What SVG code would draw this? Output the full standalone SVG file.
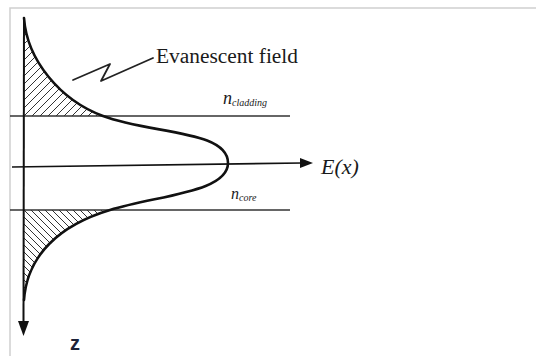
<svg xmlns="http://www.w3.org/2000/svg" width="536" height="356" viewBox="0 0 536 356">
<style>
.serif{font-family:"Liberation Serif","Times New Roman",serif;fill:#1a1a1a}
.it{font-style:italic}
.hline{stroke:#333;stroke-width:1.6;fill:none}
.hatch{stroke:#333;stroke-width:1;fill:none}
.curve{stroke:#111;stroke-width:2.6;fill:none;stroke-linecap:round}
</style>
<defs>
<clipPath id="topClip"><path d="M24,18 C27,60 60,100 103,116 L24,116 Z"/></clipPath>
<clipPath id="botClip"><path d="M24,210 L110,210 C60,225 27,255 24,300 Z"/></clipPath>
</defs>
<rect width="536" height="356" fill="#fff"/>
<g id="frame">
<path d="M10,356 V8 H536" stroke="#cfcfcf" stroke-width="1.5" fill="none"/>
</g>
<g id="hatching">
<g clip-path="url(#topClip)" class="hatch">
<path d="M0,124 L120,4 M8,124 L128,4 M16,124 L136,4 M24,124 L144,4 M32,124 L152,4 M40,124 L160,4 M48,124 L168,4 M56,124 L176,4 M64,124 L184,4 M72,124 L192,4 M80,124 L200,4 M88,124 L208,4 M96,124 L216,4 M-8,124 L112,4 M-16,124 L104,4 M-24,124 L96,4 M-32,124 L88,4 M-40,124 L80,4 M-48,124 L72,4 M-56,124 L64,4 M-64,124 L56,4 M-72,124 L48,4 M-80,124 L40,4"/>
</g>
<g clip-path="url(#botClip)" class="hatch">
<path d="M0,200 L110,310 M7,200 L117,310 M14,200 L124,310 M21,200 L131,310 M28,200 L138,310 M35,200 L145,310 M42,200 L152,310 M49,200 L159,310 M56,200 L166,310 M63,200 L173,310 M70,200 L180,310 M77,200 L187,310 M84,200 L194,310 M91,200 L201,310 M98,200 L208,310 M105,200 L215,310 M-7,200 L103,310 M-14,200 L96,310 M-21,200 L89,310 M-28,200 L82,310 M-35,200 L75,310 M-42,200 L68,310 M-49,200 L61,310 M-56,200 L54,310 M-63,200 L47,310 M-70,200 L40,310 M-77,200 L33,310 M-84,200 L26,310"/>
</g>
</g>
<g id="connectors">
<line x1="10" y1="116" x2="290" y2="116" class="hline"/>
<line x1="10" y1="210" x2="290" y2="210" class="hline"/>
<line x1="12" y1="167" x2="302" y2="163" stroke="#111" stroke-width="1.6"/>
<polygon points="300,158 313,163 300,168" fill="#111"/>
<path d="M24,17 L23.5,323" stroke="#111" stroke-width="2"/>
<polygon points="18,321 23.5,336 29,321" fill="#111"/>
<path d="M73,80 L110,64 L101,81 L153,58" stroke="#222" stroke-width="1.8" fill="none" stroke-linejoin="round" stroke-linecap="round"/>
</g>
<g id="field-curve">
<path class="curve" d="M24,18 C27,60 60,100 103,116 C150,134 228,130 228,163 C228,192 160,195 110,210 C60,225 27,255 24,300"/>
</g>
<g id="label-evanescent">
<text x="156" y="63" class="serif" font-size="20" textLength="142" lengthAdjust="spacingAndGlyphs">Evanescent field</text>
</g>
<g id="label-ncladding">
<text x="223" y="104" class="serif it" font-size="18">n<tspan font-size="10" dy="2">cladding</tspan></text>
</g>
<g id="label-ncore">
<text x="231" y="199" class="serif it" font-size="16">n<tspan font-size="10" dy="2">core</tspan></text>
</g>
<g id="label-ex">
<text x="321" y="174" class="serif it" font-size="22">E(x)</text>
</g>
<g id="label-z">
<text x="70" y="350" font-family="Liberation Sans, Arial, sans-serif" font-weight="bold" font-size="20" fill="#1c2238">z</text>
</g>
</svg>
